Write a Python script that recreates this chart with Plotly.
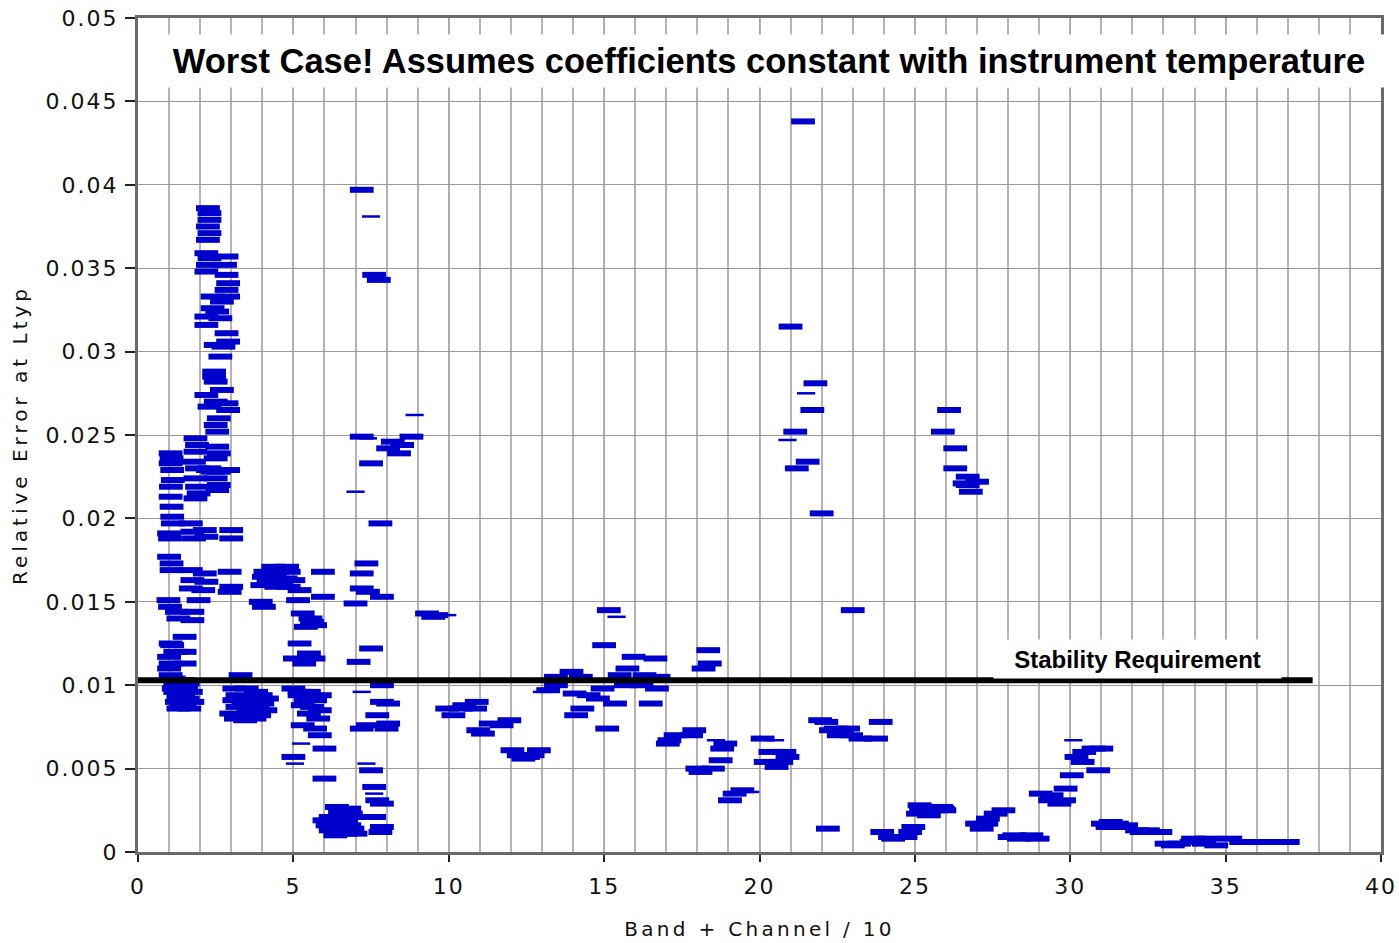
import plotly.graph_objects as go

# ---- data: (Band + Channel/10, relative error) ----
pts_low = [
    (1.05,0.0239),(1.08,0.0236),(1.05,0.0233),(1.10,0.0229),(1.12,0.0223),(1.06,0.0219),(1.05,0.0213),
    (1.08,0.0207),(1.10,0.0201),(1.12,0.0197),(1.00,0.0191),(1.03,0.0188),(1.00,0.0177),(1.08,0.0173),
    (1.08,0.0169),(0.98,0.0151),(1.03,0.0147),(1.05,0.0125),(1.00,0.0117),(1.05,0.0113),(1.00,0.0110),
    (1.05,0.0106),(1.25,0.0144),(1.30,0.0140),(1.75,0.0144),(1.75,0.0139),(1.50,0.0129),(1.10,0.0124),
    (1.50,0.0120),(1.20,0.0120),(1.50,0.0113),(1.20,0.0101),(1.35,0.0099),(1.55,0.0098),(1.20,0.0096),
    (1.45,0.0095),(1.70,0.0096),(1.30,0.0093),(1.60,0.0092),(1.25,0.0090),(1.50,0.0089),(1.75,0.0090),
    (1.40,0.0087),(1.65,0.0086),(1.30,0.0086),(1.15,0.0104),(1.45,0.0103),(1.60,0.0101),(1.15,0.0098),
    (1.85,0.0248),(1.90,0.0244),(1.85,0.0240),(1.80,0.0234),(1.90,0.0230),(1.85,0.0224),(1.90,0.0219),
    (1.95,0.0215),(1.85,0.0212),(1.70,0.0197),(1.75,0.0192),(1.80,0.0188),(1.70,0.0169),(1.75,0.0163),
    (1.70,0.0158),(1.95,0.0151),(2.15,0.0193),(2.20,0.0189),(2.15,0.0167),(2.20,0.0162),(2.10,0.0157),
    (2.25,0.0229),(2.40,0.0228),
    (2.25,0.0386),(2.30,0.0383),(2.30,0.0379),(2.25,0.0375),(2.30,0.0371),(2.25,0.0367),(2.20,0.0359),
    (2.30,0.0356),(2.25,0.0352),(2.20,0.0348),(2.85,0.0357),(2.80,0.0352),(2.85,0.0346),(2.90,0.0341),
    (2.85,0.0337),(2.90,0.0333),(2.40,0.0333),(2.70,0.0330),(2.40,0.0326),(2.55,0.0324),(2.20,0.0321),
    (2.65,0.0320),(2.20,0.0316),(2.85,0.0311),(2.90,0.0306),(2.50,0.0304),(2.75,0.0303),(2.65,0.0297),
    (2.45,0.0288),(2.45,0.0285),(2.50,0.0282),(2.70,0.0277),(2.20,0.0274),(2.50,0.0270),(2.30,0.0267),
    (2.85,0.0269),(2.90,0.0265),(2.60,0.0260),(2.50,0.0256),(2.55,0.0252),(2.55,0.0243),(2.60,0.0239),
    (2.50,0.0236),(2.30,0.0230),(2.60,0.0228),(2.90,0.0229),(2.50,0.0224),(2.60,0.0220),(2.55,0.0217),
    (3.00,0.0193),(3.00,0.0188),(2.95,0.0168),(3.00,0.0159),(2.95,0.0156),
]

pts_mid = [
    (3.30,0.0106),(3.10,0.0098),(3.50,0.0098),(3.80,0.0096),(3.20,0.0094),(3.60,0.0093),(3.95,0.0094),
    (3.10,0.0091),(3.40,0.0090),(3.70,0.0089),(4.00,0.0089),(3.20,0.0087),(3.55,0.0086),(3.85,0.0086),
    (3.00,0.0083),(3.30,0.0082),(3.60,0.0083),(3.90,0.0082),(3.15,0.0080),(3.45,0.0079),(3.75,0.0080),
    (4.10,0.0085),(4.15,0.0092),
    (4.35,0.0171),(4.80,0.0171),(4.10,0.0168),(4.50,0.0168),(4.85,0.0168),(4.05,0.0165),(4.40,0.0165),
    (4.75,0.0164),(5.00,0.0163),(4.20,0.0162),(4.60,0.0162),(4.00,0.0160),(4.45,0.0159),(4.85,0.0159),
    (5.20,0.0157),(3.95,0.0150),(4.05,0.0147),(5.15,0.0151),
    (5.95,0.0168),(5.95,0.0153),(5.30,0.0143),(5.55,0.0140),(5.60,0.0138),(5.40,0.0135),(5.70,0.0136),
    (5.20,0.0125),(5.50,0.0119),(5.05,0.0116),(5.65,0.0116),(5.35,0.0113),
    (5.00,0.0098),(5.20,0.0096),(5.50,0.0096),(5.20,0.0094),(5.85,0.0094),(5.40,0.0091),(5.70,0.0091),
    (5.30,0.0088),(5.60,0.0087),(5.85,0.0085),(5.50,0.0083),(5.80,0.0080),(5.30,0.0076),(5.70,0.0074),
    (5.85,0.0070),(6.00,0.0062),(5.00,0.0057),(6.00,0.0044),
    (6.40,0.0027),(6.80,0.0026),(6.50,0.0024),(6.85,0.0023),(6.20,0.0021),(6.55,0.0020),(6.90,0.0021),
    (6.00,0.0019),(6.35,0.0018),(6.70,0.0018),(6.10,0.0016),(6.45,0.0015),(6.80,0.0016),(6.20,0.0013),
    (6.55,0.0012),(6.90,0.0014),(6.35,0.0010),(6.70,0.0011),(7.00,0.0011),
    (7.60,0.0021),(7.85,0.0015),(7.80,0.0012),(7.50,0.0049),(7.60,0.0039),(7.70,0.0031),(7.85,0.0029),
    (7.85,0.0100),(7.85,0.0090),(8.05,0.0089),(7.70,0.0082),(7.40,0.0076),(7.20,0.0074),(8.00,0.0074),
    (8.05,0.0077),
    (7.50,0.0122),(7.10,0.0114),(7.00,0.0149),(7.20,0.0158),(7.40,0.0156),(7.85,0.0153),(7.20,0.0167),
    (7.35,0.0173),
    (7.20,0.0397),(7.60,0.0346),(7.75,0.0343),(7.20,0.0249),(8.80,0.0249),(8.20,0.0246),(8.50,0.0244),
    (8.05,0.0242),(8.40,0.0239),(7.50,0.0233),(7.80,0.0197),
    (9.30,0.0143),(9.60,0.0142),(9.50,0.0141),
]

pts_high = [
    (9.95,0.0086),(10.40,0.0086),(10.85,0.0086),(10.50,0.0088),(10.90,0.0090),(10.15,0.0082),
    (11.35,0.0077),(11.95,0.0079),(11.70,0.0076),(10.95,0.0073),(11.10,0.0071),
    (12.05,0.0061),(12.90,0.0061),(12.25,0.0058),(12.70,0.0058),(12.40,0.0056),(12.55,0.0057),
    (15.15,0.0145),(15.00,0.0124),(15.95,0.0117),(16.65,0.0116),(15.75,0.0110),(15.50,0.0106),
    (16.30,0.0106),(16.75,0.0105),(13.95,0.0108),(13.45,0.0105),(14.25,0.0105),(13.45,0.0100),
    (13.20,0.0097),(14.95,0.0098),(15.70,0.0100),(16.20,0.0100),(16.70,0.0098),(14.05,0.0095),
    (14.50,0.0094),(14.80,0.0092),(15.35,0.0089),(16.50,0.0089),(14.30,0.0086),(14.10,0.0082),
    (15.10,0.0074),
    (18.35,0.0121),(18.40,0.0113),(18.20,0.0110),
    (17.30,0.0070),(17.80,0.0070),(17.90,0.0073),(17.10,0.0067),(17.05,0.0065),
    (18.90,0.0065),(18.80,0.0062),(18.75,0.0055),(18.00,0.0050),(18.50,0.0050),(18.10,0.0048),
    (19.05,0.0031),(19.20,0.0035),(19.45,0.0037),
    (20.10,0.0068),(20.35,0.0060),(20.80,0.0060),(20.90,0.0057),(20.20,0.0054),(20.70,0.0054),
    (20.55,0.0051),
    (21.00,0.0315),(21.40,0.0438),(21.80,0.0281),(21.70,0.0265),(21.15,0.0252),(21.55,0.0234),
    (21.20,0.0230),(22.00,0.0203),(23.00,0.0145),
    (21.95,0.0079),(22.15,0.0078),(22.45,0.0074),(22.85,0.0074),(22.30,0.0073),(22.65,0.0073),
    (22.55,0.0070),(22.95,0.0070),(23.25,0.0068),(23.75,0.0068),(23.90,0.0078),
    (22.20,0.0014),
    (23.95,0.0012),(24.50,0.0009),(24.85,0.0012),(24.95,0.0015),(24.20,0.0009),(24.70,0.0009),
    (24.30,0.0008),
    (25.15,0.0028),(25.50,0.0027),(25.85,0.0027),(25.20,0.0025),(25.60,0.0025),(25.95,0.0025),
    (25.10,0.0023),(25.45,0.0022),(25.90,0.0026),
    (26.10,0.0265),(25.90,0.0252),(26.30,0.0242),(26.30,0.0230),(26.70,0.0225),(26.60,0.0221),
    (27.00,0.0222),(26.70,0.0220),(26.80,0.0216),
    (27.00,0.0017),(27.30,0.0017),(27.15,0.0014),(27.35,0.0020),(27.60,0.0023),(27.85,0.0025),
    (28.05,0.0009),(28.35,0.0008),(28.60,0.0009),(28.95,0.0008),(28.20,0.0010),(28.75,0.0010),
    (29.05,0.0035),(29.40,0.0034),(29.35,0.0031),(29.80,0.0031),(29.65,0.0029),(29.85,0.0038),
    (30.05,0.0046),(30.90,0.0049),(30.20,0.0057),(30.40,0.0054),(30.45,0.0060),(30.75,0.0062),
    (31.00,0.0062),
    (31.05,0.0017),(31.30,0.0018),(31.50,0.0017),(31.80,0.0016),(31.20,0.0015),(31.60,0.0015),
    (32.15,0.0013),(32.50,0.0013),(32.90,0.0012),(32.30,0.0012),
    (33.10,0.0005),(33.50,0.0005),(33.90,0.0006),(34.30,0.0005),(33.95,0.0008),(34.40,0.0008),
    (34.70,0.0004),(33.30,0.0004),
    (35.15,0.0008),(35.50,0.0006),(35.90,0.0006),(36.30,0.0006),(36.75,0.0006),(37.00,0.0006),
]

pts_thin = [
    (7.50,0.0381),(8.90,0.0262),(7.40,0.0248),(7.00,0.0216),(7.20,0.0096),(5.25,0.0065),(5.05,0.0053),
    (7.35,0.0053),(7.60,0.0035),(15.40,0.0141),(13.00,0.0096),(18.60,0.0067),(20.50,0.0067),
    (19.70,0.0036),(21.50,0.0275),(20.90,0.0247),(30.10,0.0067),(9.95,0.0142),
]

req_x = [0, 37.8]
req_y = [0.0103, 0.0103]

x_tick_vals = [0, 5, 10, 15, 20, 25, 30, 35, 40]
x_tick_text = ["0", "5", "10", "15", "20", "25", "30", "35", "40"]
y_tick_vals = [0, 0.005, 0.01, 0.015, 0.02, 0.025, 0.03, 0.035, 0.04, 0.045, 0.05]
y_tick_text = ["0", "0.005", "0.01", "0.015", "0.02", "0.025", "0.03", "0.035", "0.04", "0.045", "0.05"]

title_text = "Worst Case! Assumes coefficients constant with instrument temperature"
req_label = "Stability Requirement"
x_title = "Band + Channel / 10"
y_title = "Relative Error at Ltyp"

# ---- figure ----
BLUE = "#0000cc"
thick = pts_low + pts_mid + pts_high


def spaced(s, px):
    return '<span style="letter-spacing:%spx">%s</span>' % (px, s)


fig = go.Figure()
fig.add_trace(go.Scatter(
    x=[p[0] for p in thick], y=[p[1] for p in thick], mode="markers",
    marker=dict(symbol="line-ew", size=17, line=dict(width=6, color=BLUE)),
    hoverinfo="x+y", showlegend=False))
fig.add_trace(go.Scatter(
    x=[p[0] for p in pts_thin], y=[p[1] for p in pts_thin], mode="markers",
    marker=dict(symbol="line-ew", size=13, line=dict(width=2.5, color=BLUE)),
    hoverinfo="x+y", showlegend=False))
fig.add_trace(go.Scatter(
    x=req_x, y=req_y, mode="lines", line=dict(color="black", width=6),
    hoverinfo="skip", showlegend=False))

TICKFONT = dict(family="DejaVu Sans", size=22, color="#111111")

fig.update_layout(
    width=1399, height=943,
    margin=dict(l=138, r=18, t=18, b=91),
    paper_bgcolor="white", plot_bgcolor="white",
    xaxis=dict(
        range=[0, 40], tickvals=x_tick_vals, ticktext=[spaced(t, 2) for t in x_tick_text],
        tickfont=TICKFONT, ticks="outside", ticklen=7, tickwidth=1.5, tickcolor="#222",
        showgrid=True, gridcolor="#a8a8a8", gridwidth=1.2,
        minor=dict(dtick=1, showgrid=True, gridcolor="#b4b4b4", gridwidth=1.5, ticks=""),
        showline=True, linecolor="#6a6a6a", linewidth=3, mirror=True,
        zeroline=False, ticklabelstandoff=6, automargin=False,
        title=dict(text=spaced(x_title, 3.3), font=dict(family="DejaVu Sans", size=20, color="#111"),
                   standoff=24),
    ),
    yaxis=dict(
        range=[0, 0.05], tickvals=y_tick_vals, ticktext=[spaced(t, 2) for t in y_tick_text],
        tickfont=TICKFONT, ticks="outside", ticklen=10, tickwidth=1.5, tickcolor="#222",
        showgrid=True, gridcolor="#999999", gridwidth=1.2,
        showline=True, linecolor="#6a6a6a", linewidth=3, mirror=True,
        zeroline=False, ticklabelstandoff=2, automargin=False,
        title=dict(text=spaced(y_title, 4.0), font=dict(family="DejaVu Sans", size=20, color="#111"),
                   standoff=13),
    ),
    annotations=[
        dict(text="<b>%s</b>" % title_text, xref="paper", yref="paper", x=0.508, y=0.9484,
             xanchor="center", yanchor="middle", showarrow=False,
             font=dict(family="Liberation Sans, Arial", size=34.5, color="black"),
             bgcolor="white", width=1232, height=50),
        dict(text="<b>%s</b>" % req_label, xref="x", yref="y", x=32.15, y=0.01158,
             xanchor="center", yanchor="middle", showarrow=False,
             font=dict(family="Liberation Sans, Arial", size=24, color="black"),
             bgcolor="white", width=285, height=36),
    ],
)

fig.write_html("out.html")
